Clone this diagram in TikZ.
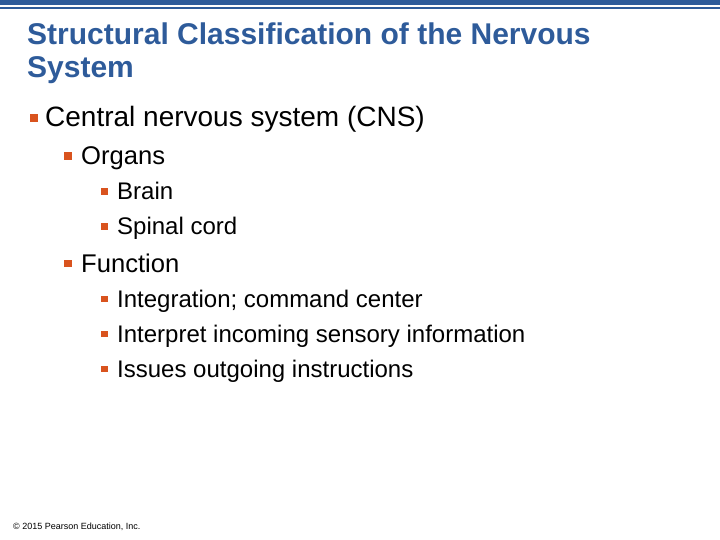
\documentclass[tikz,border=0pt]{standalone}
\usepackage{fontspec}
\setmainfont{Liberation Sans}
\definecolor{slideblue}{HTML}{2E5B9A}
\definecolor{bulletred}{HTML}{D9531E}
\begin{document}
\begin{tikzpicture}[x=1pt,y=-1pt,
    title_text/.style={anchor=base west,inner sep=0pt,text=slideblue,font=\fontsize{30}{34}\selectfont\bfseries},
    level_one/.style={anchor=base west,inner sep=0pt,font=\fontsize{28}{32}\selectfont},
    level_two/.style={anchor=base west,inner sep=0pt,font=\fontsize{25.6}{30}\selectfont},
    level_three/.style={anchor=base west,inner sep=0pt,font=\fontsize{24}{28}\selectfont},
    bullet_box/.style={fill=bulletred,inner sep=0pt}]
  \useasboundingbox (0,0) rectangle (720,540);
  \fill[slideblue] (0,0) rectangle (720,5);
  \fill[slideblue] (0,7) rectangle (720,9);
\node[title_text] (title1) at (27,45) {Structural Classification of the Nervous};
\node[title_text] (title2) at (27,78) {System};
\node[level_one] (cns) at (45,127) {Central nervous system (CNS)};
\node[level_two] (organs) at (81,165) {Organs};
\node[level_three] (brain) at (117,200) {Brain};
\node[level_three] (spinal) at (117,235) {Spinal cord};
\node[level_two] (function) at (81,272) {Function};
\node[level_three] (integ) at (117,307) {Integration; command center};
\node[level_three] (interp) at (117,342) {Interpret incoming sensory information};
\node[level_three] (issues) at (117,377) {Issues outgoing instructions};
\foreach \n/\x/\s in {cns/30/8,organs/64/7.5,function/64/7.5,brain/101/6.5,spinal/101/6.5,integ/101/6.5,interp/101/6.5,issues/101/6.5}
  \fill[bulletred] (\x,{0}|-\n.base) ++(0,-5) rectangle ++(\s,-\s);
\node[anchor=base west,inner sep=0pt,font=\fontsize{9}{10}\selectfont] (copy) at (13,529) {© 2015 Pearson Education, Inc.};
\end{tikzpicture}
\end{document}
